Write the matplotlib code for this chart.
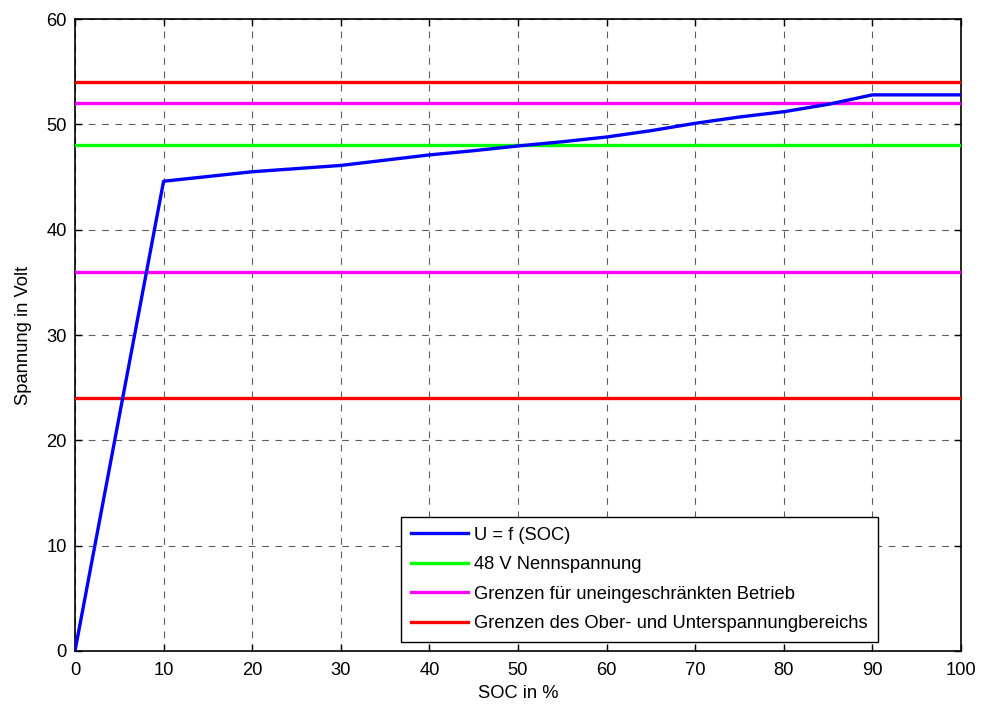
import matplotlib
matplotlib.use("Agg")
import matplotlib.pyplot as plt
import numpy as np

plt.rcParams.update({
    "font.family": ["Liberation Sans", "DejaVu Sans"],
    "font.size": 13.2,
    "xtick.direction": "in",
    "ytick.direction": "in",
})

# U = f(SOC) curve
soc = [0, 10, 20, 30, 40, 45, 50, 55, 60, 65, 70, 75, 80, 85, 90, 100]
voltage = [0, 44.6, 45.5, 46.1, 47.1, 47.5, 47.95, 48.35, 48.8, 49.4, 50.1, 50.7, 51.2, 51.9, 52.8, 52.8]

nominal = [48]
unrestricted = [36, 52]
over_under = [24, 54]

labels = [
    "U = f (SOC)",
    "48 V Nennspannung",
    "Grenzen für uneingeschränkten Betrieb",
    "Grenzen des Ober- und Unterspannungbereichs",
]

fig = plt.figure(figsize=(9.84, 7.05), dpi=100)
ax = fig.add_axes([0.0762, 0.0766, 0.9004, 0.8964])

lw = 2.4
ax.plot(soc, voltage, color="#0000ff", lw=lw, label=labels[0], zorder=5)
for i, v in enumerate(nominal):
    ax.axhline(v, color="#00ff00", lw=lw, label=labels[1] if i == 0 else None, zorder=4)
for i, v in enumerate(unrestricted):
    ax.axhline(v, color="#ff00ff", lw=lw, label=labels[2] if i == 0 else None, zorder=4)
for i, v in enumerate(over_under):
    ax.axhline(v, color="#ff0000", lw=lw, label=labels[3] if i == 0 else None, zorder=4)

ax.set_xlim(0, 100)
ax.set_ylim(0, 60)
ax.set_xticks(np.arange(0, 101, 10))
ax.set_yticks(np.arange(0, 61, 10))
ax.tick_params(top=True, right=True, length=5, width=1, pad=6)
ax.tick_params(axis="x", pad=8)
ax.grid(True, color="#333333", linestyle=(0, (6, 6)), linewidth=0.8, alpha=0.8)
ax.set_axisbelow(True)
for s in ax.spines.values():
    s.set_linewidth(1.2)

ax.set_xlabel("SOC in %", labelpad=4)
ax.set_ylabel("Spannung in Volt", labelpad=10)

leg = ax.legend(loc="lower right", bbox_to_anchor=(0.906, 0.014), fancybox=False,
                framealpha=1, edgecolor="black", handlelength=3.1, handletextpad=0.35,
                borderpad=0.55, labelspacing=0.68, borderaxespad=0, fontsize=13.2)
leg.get_frame().set_linewidth(1.0)

fig.savefig("out.png", dpi=100)
